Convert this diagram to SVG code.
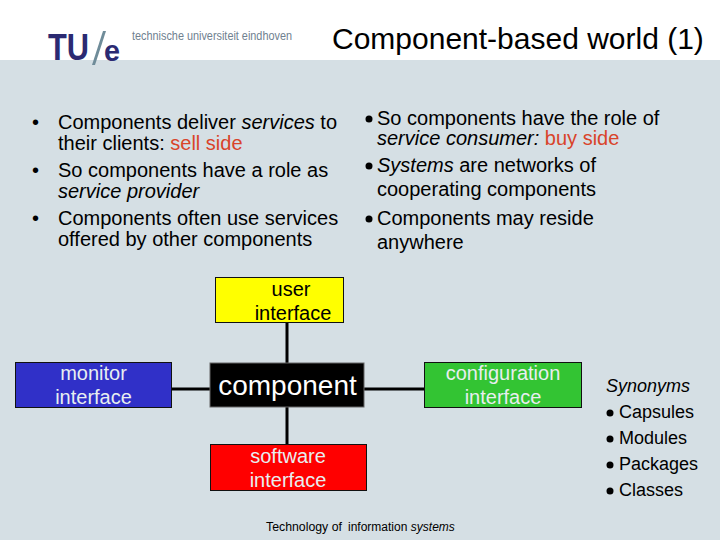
<svg xmlns="http://www.w3.org/2000/svg" width="720" height="540" viewBox="0 0 720 540">
<style>
text{font-family:"Liberation Sans",Arial,sans-serif;fill:#000}
.b{font-size:20px}
.s{font-size:18px}
.n{font-size:20px;text-anchor:middle}
.w{fill:#e8eef0}
.box{stroke:#111;stroke-width:1}
.c{stroke:#000;stroke-width:3;fill:none}
.r{fill:#d9442a}
.i{font-style:italic}
</style>
<rect width="720" height="540" fill="#fff"/>
<rect y="60" width="720" height="480" fill="#d5dfe4"/>
<g id="logo">
<text x="48" y="60" style="font-size:37px;font-weight:bold;fill:#2b2a72" textLength="41" lengthAdjust="spacingAndGlyphs">TU</text>
<path d="M103 31 L106 31 L95 65 L92 65 Z" fill="#6f8c99"/>
<text x="104" y="61" style="font-size:29px;font-weight:bold;fill:#2b2a72" textLength="16" lengthAdjust="spacingAndGlyphs">e</text>
<text x="132" y="40" style="font-size:12.500px;fill:#6f8190" textLength="160" lengthAdjust="spacingAndGlyphs">technische universiteit eindhoven</text>
</g>
<text id="title" x="332" y="49" style="font-size:30px">Component-based world (1)</text>
<g id="left-text" class="b">
<text x="32" y="129">•</text><text x="58" y="129">Components deliver <tspan class="i">services</tspan> to</text>
<text x="58" y="150">their clients: <tspan class="r">sell side</tspan></text>
<text x="32" y="177">•</text><text x="58" y="177">So components have a role as</text>
<text x="58" y="198" class="i">service provider</text>
<text x="32" y="225">•</text><text x="58" y="225">Components often use services</text>
<text x="58" y="246">offered by other components</text>
</g>
<g id="right-text" class="b">
<circle cx="369" cy="119" r="3.500"/><text x="377" y="124.500">So components have the role of</text>
<text x="377" y="145"><tspan class="i">service consumer:</tspan> <tspan class="r">buy side</tspan></text>
<circle cx="369" cy="166" r="3.500"/><text x="377" y="172">
<tspan class="i">Systems</tspan> are networks of</text>
<text x="377" y="196">cooperating components</text>
<circle cx="369" cy="219" r="3.500"/><text x="377" y="225">Components may reside</text>
<text x="377" y="249">anywhere</text>
</g>
<g id="connectors">
<path class="c" d="M287 322V364M287 407V444M172 389H210M364 389H424"/>
</g>
<g id="user-interface"><rect class="box" x="215.500" y="277.500" width="128" height="45" fill="#ff0"/>
<text class="n" x="291" y="296">user</text><text class="n" x="293" y="320">interface</text></g>
<g id="monitor-interface"><rect class="box" x="15.500" y="362.500" width="156" height="45" fill="#3030c8"/>
<text class="n w" x="93.500" y="380">monitor</text><text class="n w" x="93.500" y="404">interface</text></g>
<g id="component"><rect x="210" y="363" width="154" height="44" fill="#000" stroke="#666"/>
<text x="287.500" y="395" style="font-size:28px;text-anchor:middle;fill:#fff">component</text></g>
<g id="configuration-interface"><rect class="box" x="424.500" y="362.500" width="157" height="45" fill="#33c433"/>
<text class="n w" x="503" y="380">configuration</text><text class="n w" x="503" y="404">interface</text></g>
<g id="software-interface"><rect class="box" x="210.500" y="444.500" width="156" height="46" fill="#f00"/>
<text class="n w" x="288" y="463">software</text><text class="n w" x="288" y="487">interface</text></g>
<g id="synonyms" class="s">
<text x="606" y="392" class="i">Synonyms</text>
<circle cx="610" cy="413" r="3.500"/><text x="619" y="418">Capsules</text>
<circle cx="610" cy="439" r="3.500"/><text x="619" y="444">Modules</text>
<circle cx="610" cy="465" r="3.500"/><text x="619" y="470">Packages</text>
<circle cx="610" cy="491" r="3.500"/><text x="619" y="496">Classes</text>
</g>
<text id="footer" x="266" y="531" style="font-size:12.300px">Technology of <tspan x="348" style="font-size:12px">information</tspan> <tspan class="i" style="font-size:12px">systems</tspan></text>
</svg>
